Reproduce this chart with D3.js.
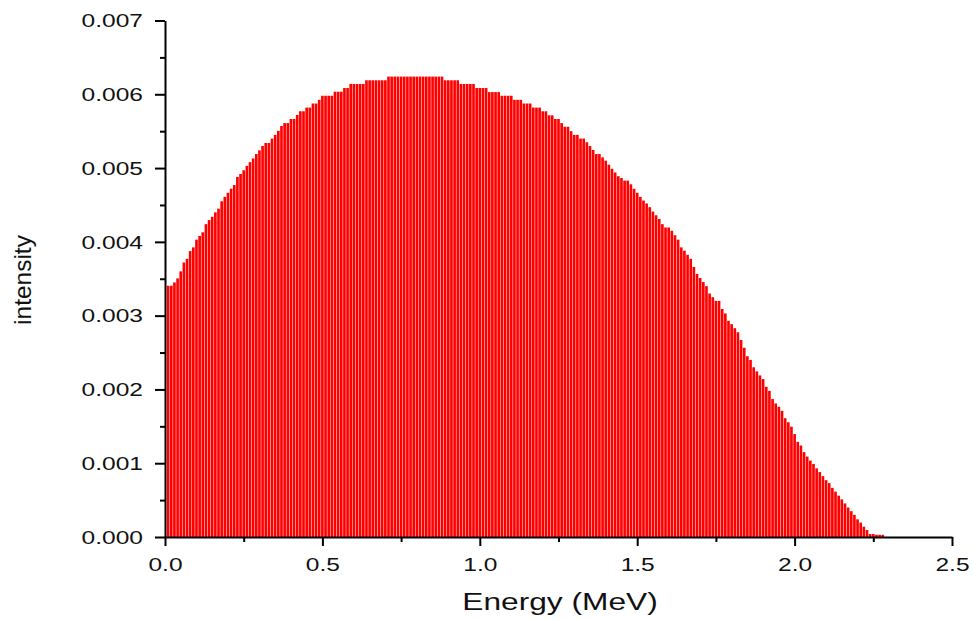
<!DOCTYPE html>
<html>
<head>
<meta charset="utf-8">
<script src="https://cdn.jsdelivr.net/npm/d3@7"></script>
<style>
  html, body { margin: 0; padding: 0; background: #fff; }
  svg { display: block; }
</style>
</head>
<body>
<svg id="chart" width="974" height="619"></svg>
<script>
// Bin centres of the energy histogram (MeV), 0.01 MeV wide bins
const energy = [
  0.01,0.02,0.03,0.04,0.05,0.06,0.07,0.08,0.09,0.10,
  0.11,0.12,0.13,0.14,0.15,0.16,0.17,0.18,0.19,0.20,
  0.21,0.22,0.23,0.24,0.25,0.26,0.27,0.28,0.29,0.30,
  0.31,0.32,0.33,0.34,0.35,0.36,0.37,0.38,0.39,0.40,
  0.41,0.42,0.43,0.44,0.45,0.46,0.47,0.48,0.49,0.50,
  0.51,0.52,0.53,0.54,0.55,0.56,0.57,0.58,0.59,0.60,
  0.61,0.62,0.63,0.64,0.65,0.66,0.67,0.68,0.69,0.70,
  0.71,0.72,0.73,0.74,0.75,0.76,0.77,0.78,0.79,0.80,
  0.81,0.82,0.83,0.84,0.85,0.86,0.87,0.88,0.89,0.90,
  0.91,0.92,0.93,0.94,0.95,0.96,0.97,0.98,0.99,1.00,
  1.01,1.02,1.03,1.04,1.05,1.06,1.07,1.08,1.09,1.10,
  1.11,1.12,1.13,1.14,1.15,1.16,1.17,1.18,1.19,1.20,
  1.21,1.22,1.23,1.24,1.25,1.26,1.27,1.28,1.29,1.30,
  1.31,1.32,1.33,1.34,1.35,1.36,1.37,1.38,1.39,1.40,
  1.41,1.42,1.43,1.44,1.45,1.46,1.47,1.48,1.49,1.50,
  1.51,1.52,1.53,1.54,1.55,1.56,1.57,1.58,1.59,1.60,
  1.61,1.62,1.63,1.64,1.65,1.66,1.67,1.68,1.69,1.70,
  1.71,1.72,1.73,1.74,1.75,1.76,1.77,1.78,1.79,1.80,
  1.81,1.82,1.83,1.84,1.85,1.86,1.87,1.88,1.89,1.90,
  1.91,1.92,1.93,1.94,1.95,1.96,1.97,1.98,1.99,2.00,
  2.01,2.02,2.03,2.04,2.05,2.06,2.07,2.08,2.09,2.10,
  2.11,2.12,2.13,2.14,2.15,2.16,2.17,2.18,2.19,2.20,
  2.21,2.22,2.23,2.24,2.25,2.26,2.27,2.28
];

// Intensity per bin
const intensity = [
  0.003405,0.003405,0.003450,0.003505,0.003600,0.003720,0.003770,0.003875,0.003925,0.004030,
  0.004080,0.004130,0.004240,0.004295,0.004340,0.004400,0.004450,0.004550,0.004610,0.004665,
  0.004720,0.004770,0.004880,0.004920,0.004970,0.005030,0.005080,0.005130,0.005190,0.005240,
  0.005300,0.005340,0.005340,0.005400,0.005450,0.005505,0.005570,0.005610,0.005610,0.005665,
  0.005665,0.005720,0.005770,0.005770,0.005820,0.005820,0.005875,0.005875,0.005925,0.005980,
  0.005980,0.005980,0.005980,0.006035,0.006035,0.006035,0.006085,0.006085,0.006140,0.006140,
  0.006140,0.006140,0.006140,0.006190,0.006190,0.006190,0.006190,0.006190,0.006190,0.006190,
  0.006240,0.006240,0.006240,0.006240,0.006240,0.006240,0.006240,0.006240,0.006240,0.006240,
  0.006240,0.006240,0.006240,0.006240,0.006240,0.006240,0.006240,0.006240,0.006190,0.006190,
  0.006190,0.006190,0.006190,0.006140,0.006140,0.006140,0.006140,0.006140,0.006085,0.006085,
  0.006085,0.006085,0.006030,0.006030,0.006030,0.006030,0.005980,0.005980,0.005980,0.005980,
  0.005925,0.005925,0.005925,0.005875,0.005875,0.005875,0.005820,0.005820,0.005820,0.005770,
  0.005770,0.005715,0.005715,0.005665,0.005665,0.005610,0.005560,0.005560,0.005500,0.005450,
  0.005450,0.005400,0.005400,0.005350,0.005300,0.005245,0.005190,0.005190,0.005145,0.005100,
  0.005045,0.004990,0.004940,0.004890,0.004865,0.004830,0.004830,0.004780,0.004720,0.004665,
  0.004610,0.004560,0.004520,0.004470,0.004410,0.004360,0.004310,0.004240,0.004195,0.004195,
  0.004150,0.004090,0.004030,0.003925,0.003880,0.003825,0.003770,0.003660,0.003565,0.003510,
  0.003455,0.003400,0.003300,0.003250,0.003200,0.003200,0.003090,0.003030,0.002930,0.002885,
  0.002830,0.002775,0.002670,0.002565,0.002450,0.002400,0.002300,0.002245,0.002190,0.002140,
  0.002035,0.001980,0.001870,0.001810,0.001765,0.001710,0.001610,0.001555,0.001495,0.001395,
  0.001290,0.001240,0.001150,0.001090,0.001035,0.000990,0.000930,0.000880,0.000825,0.000770,
  0.000730,0.000665,0.000615,0.000560,0.000510,0.000455,0.000400,0.000350,0.000300,0.000240,
  0.000195,0.000140,0.000095,0.000040,0.000040,0.000030,0.000030,0.000030
];

const binWidth = 0.01;

const xMajorTicks = [0.0, 0.5, 1.0, 1.5, 2.0, 2.5];
const xMinorTicks = [0.25, 0.75, 1.25, 1.75, 2.25];
const yMajorTicks = [0.000, 0.001, 0.002, 0.003, 0.004, 0.005, 0.006, 0.007];
const yMinorTicks = [0.0005, 0.0015, 0.0025, 0.0035, 0.0045, 0.0055, 0.0065];

const xTitle = "Energy (MeV)";
const yTitle = "intensity";

const FONT = "'Liberation Sans', Arial, Helvetica, sans-serif";
const WIDE = 1.32;   // horizontal glyph widening used for the labels

const svg = d3.select("#chart");

const x = d3.scaleLinear().domain([0, 2.5]).range([165, 952]);
const y = d3.scaleLinear().domain([0, 0.007]).range([537, 20.5]);

// Histogram bars
const bins = energy.map((e, i) => ({ e, v: intensity[i] }));
const bw = x(binWidth) - x(0);
svg.append("g")
  .selectAll("rect")
  .data(bins)
  .join("rect")
  .attr("x", d => x(d.e - binWidth / 2) + 0.25)
  .attr("width", bw - 0.5)
  .attr("y", d => y(d.v))
  .attr("height", d => y(0) - y(d.v))
  .attr("fill", "#ff0000");

function styleAxis(g) {
  g.selectAll("path, line").attr("stroke", "#000").attr("stroke-width", 2);
}

// X axis: minor then major
svg.append("g")
  .attr("transform", `translate(0,${y(0)})`)
  .call(d3.axisBottom(x).tickValues(xMinorTicks).tickSize(5).tickSizeOuter(0).tickFormat(""))
  .call(g => g.select(".domain").remove())
  .call(styleAxis);

const gx = svg.append("g")
  .attr("transform", `translate(0,${y(0)})`)
  .call(d3.axisBottom(x).tickValues(xMajorTicks).tickSize(9).tickSizeOuter(0).tickFormat(d3.format(".1f")))
  .call(styleAxis);
gx.selectAll("text")
  .attr("y", 34).attr("dy", 0)
  .attr("font-family", FONT).attr("font-size", 18.6).attr("fill", "#111")
  .attr("transform", `scale(${WIDE},1)`);

// Y axis: minor then major
svg.append("g")
  .attr("transform", `translate(${x(0)},0)`)
  .call(d3.axisLeft(y).tickValues(yMinorTicks).tickSize(5).tickSizeOuter(0).tickFormat(""))
  .call(g => g.select(".domain").remove())
  .call(styleAxis);

const gy = svg.append("g")
  .attr("transform", `translate(${x(0)},0)`)
  .call(d3.axisLeft(y).tickValues(yMajorTicks).tickSize(10).tickSizeOuter(0).tickFormat(d3.format(".3f")))
  .call(styleAxis);
gy.selectAll("text")
  .attr("x", -22 / WIDE).attr("dy", "0.34em")
  .attr("font-family", FONT).attr("font-size", 18.6).attr("fill", "#111")
  .attr("transform", `scale(${WIDE},1)`);

// Axis titles
svg.append("text")
  .attr("transform", `translate(560,610) scale(${WIDE},1)`)
  .attr("text-anchor", "middle")
  .attr("font-family", FONT).attr("font-size", 24).attr("fill", "#111")
  .text(xTitle);

svg.append("text")
  .attr("transform", "translate(31,280) rotate(-90) scale(1.02,1)")
  .attr("text-anchor", "middle")
  .attr("font-family", FONT).attr("font-size", 24).attr("fill", "#111")
  .text(yTitle);
</script>
</body>
</html>
